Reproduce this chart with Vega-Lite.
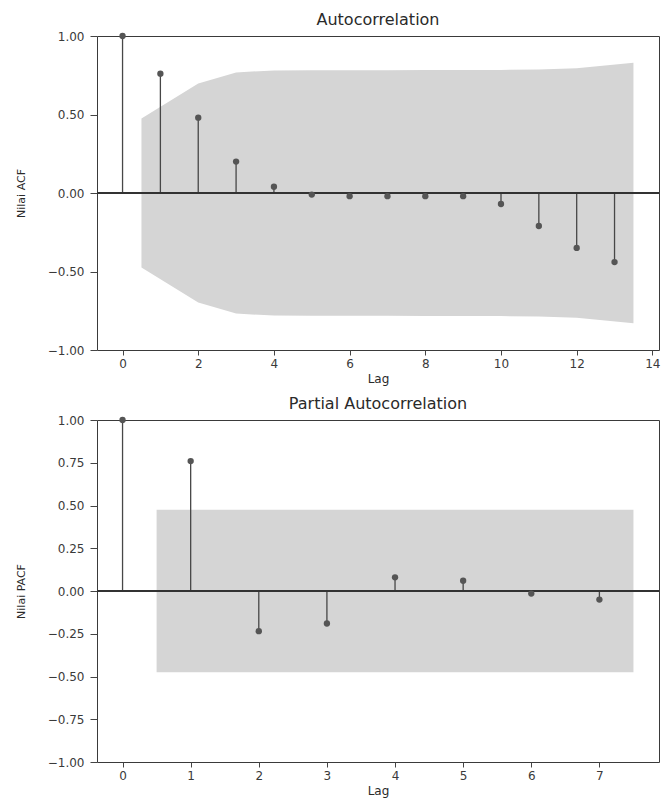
{
  "$schema": "https://vega.github.io/schema/vega-lite/v6.json",
  "padding": {"left": 14, "top": 11, "right": 2, "bottom": 2},
  "background": "white",
  "config": {
    "font": "DejaVu Sans",
    "view": {"stroke": "#3a3a3a", "strokeWidth": 1},
    "axis": {
      "grid": false,
      "domain": false,
      "tickColor": "#444444",
      "labelColor": "#3a3a3a",
      "labelFontSize": 12,
      "labelFont": "DejaVu Sans",
      "labelOverlap": false,
      "titleFont": "DejaVu Sans",
      "titleFontWeight": "normal",
      "titleColor": "#2a2a2a"
    },
    "axisX": {"tickSize": 5, "labelPadding": 3, "titleFontSize": 12, "titlePadding": 4},
    "axisY": {"tickSize": 7, "labelPadding": 6, "titleFontSize": 11, "titlePadding": 21},
    "title": {"font": "DejaVu Sans", "fontWeight": "normal", "fontSize": 16, "color": "#2a2a2a", "offset": 2},
    "concat": {"spacing": 10}
  },
  "datasets": {
    "acf": [
      {"lag": 0, "v": 1.0}, {"lag": 1, "v": 0.76}, {"lag": 2, "v": 0.48}, {"lag": 3, "v": 0.2},
      {"lag": 4, "v": 0.04}, {"lag": 5, "v": -0.01}, {"lag": 6, "v": -0.02}, {"lag": 7, "v": -0.02},
      {"lag": 8, "v": -0.02}, {"lag": 9, "v": -0.02}, {"lag": 10, "v": -0.07}, {"lag": 11, "v": -0.21},
      {"lag": 12, "v": -0.35}, {"lag": 13, "v": -0.44}
    ],
    "acfband": [
      {"x": 0.5, "lo": -0.475, "hi": 0.475}, {"x": 2, "lo": -0.697, "hi": 0.697},
      {"x": 3, "lo": -0.768, "hi": 0.768}, {"x": 4, "lo": -0.781, "hi": 0.781},
      {"x": 5, "lo": -0.782, "hi": 0.782}, {"x": 6, "lo": -0.782, "hi": 0.782},
      {"x": 7, "lo": -0.782, "hi": 0.782}, {"x": 8, "lo": -0.783, "hi": 0.783},
      {"x": 9, "lo": -0.783, "hi": 0.783}, {"x": 10, "lo": -0.784, "hi": 0.784},
      {"x": 11, "lo": -0.786, "hi": 0.786}, {"x": 12, "lo": -0.795, "hi": 0.795},
      {"x": 13.5, "lo": -0.83, "hi": 0.83}
    ],
    "pacf": [
      {"lag": 0, "v": 1.0}, {"lag": 1, "v": 0.76}, {"lag": 2, "v": -0.235}, {"lag": 3, "v": -0.19},
      {"lag": 4, "v": 0.08}, {"lag": 5, "v": 0.06}, {"lag": 6, "v": -0.015}, {"lag": 7, "v": -0.05}
    ],
    "pacfband": [
      {"x": 0.5, "lo": -0.475, "hi": 0.475}, {"x": 2, "lo": -0.475, "hi": 0.475},
      {"x": 3, "lo": -0.475, "hi": 0.475}, {"x": 4, "lo": -0.475, "hi": 0.475},
      {"x": 5, "lo": -0.475, "hi": 0.475}, {"x": 6, "lo": -0.475, "hi": 0.475},
      {"x": 7.5, "lo": -0.475, "hi": 0.475}
    ]
  },
  "vconcat": [
    {
      "title": "Autocorrelation",
      "width": 562,
      "height": 314,
      "layer": [
        {
          "data": {"name": "acfband"},
          "mark": {"type": "area", "color": "#d5d5d5", "opacity": 1},
          "encoding": {
            "x": {"field": "x", "type": "quantitative", "scale": {"domain": [-0.675, 14.175], "nice": false, "zero": false},
                  "axis": {"values": [0, 2, 4, 6, 8, 10, 12, 14], "format": "d", "title": "Lag"}},
            "y": {"field": "lo", "type": "quantitative", "scale": {"domain": [-1, 1], "nice": false},
                  "axis": {"values": [-1, -0.75, -0.5, -0.25, 0, 0.25, 0.5, 0.75, 1], "format": ".2f", "title": "Nilai ACF"}},
            "y2": {"field": "hi"}
          }
        },
        {
          "data": {"name": "acf"},
          "mark": {"type": "rule", "color": "#474747", "strokeWidth": 1.3},
          "encoding": {
            "x": {"field": "lag", "type": "quantitative"},
            "y": {"field": "v", "type": "quantitative"},
            "y2": {"datum": 0}
          }
        },
        {
          "data": {"name": "acf"},
          "mark": {"type": "rule", "color": "#333333", "strokeWidth": 1},
          "encoding": {"y": {"datum": 0, "type": "quantitative"}}
        },
        {
          "data": {"name": "acf"},
          "mark": {"type": "point", "filled": true, "color": "#555555", "opacity": 1, "size": 40},
          "encoding": {
            "x": {"field": "lag", "type": "quantitative"},
            "y": {"field": "v", "type": "quantitative"}
          }
        }
      ]
    },
    {
      "title": "Partial Autocorrelation",
      "width": 562,
      "height": 342,
      "layer": [
        {
          "data": {"name": "pacfband"},
          "mark": {"type": "area", "color": "#d5d5d5", "opacity": 1},
          "encoding": {
            "x": {"field": "x", "type": "quantitative", "scale": {"domain": [-0.375, 7.875], "nice": false, "zero": false},
                  "axis": {"values": [0, 1, 2, 3, 4, 5, 6, 7], "format": "d", "title": "Lag"}},
            "y": {"field": "lo", "type": "quantitative", "scale": {"domain": [-1, 1], "nice": false},
                  "axis": {"values": [-1, -0.75, -0.5, -0.25, 0, 0.25, 0.5, 0.75, 1], "format": ".2f", "title": "Nilai PACF"}},
            "y2": {"field": "hi"}
          }
        },
        {
          "data": {"name": "pacf"},
          "mark": {"type": "rule", "color": "#474747", "strokeWidth": 1.3},
          "encoding": {
            "x": {"field": "lag", "type": "quantitative"},
            "y": {"field": "v", "type": "quantitative"},
            "y2": {"datum": 0}
          }
        },
        {
          "data": {"name": "pacf"},
          "mark": {"type": "rule", "color": "#333333", "strokeWidth": 1},
          "encoding": {"y": {"datum": 0, "type": "quantitative"}}
        },
        {
          "data": {"name": "pacf"},
          "mark": {"type": "point", "filled": true, "color": "#555555", "opacity": 1, "size": 40},
          "encoding": {
            "x": {"field": "lag", "type": "quantitative"},
            "y": {"field": "v", "type": "quantitative"}
          }
        }
      ]
    }
  ]
}
